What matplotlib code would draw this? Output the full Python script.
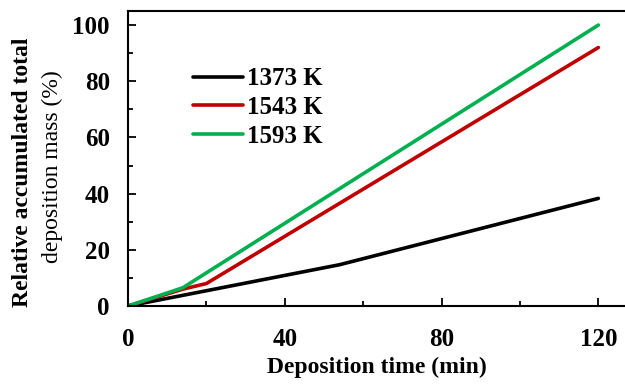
import matplotlib
matplotlib.use("Agg")
import matplotlib.pyplot as plt
from matplotlib.ticker import MultipleLocator

plt.rcParams['font.family'] = ['Liberation Serif', 'DejaVu Serif']

labels = ["1373 K", "1543 K", "1593 K"]
colors = ["#000000", "#C00000", "#00B050"]
t_1373 = [0, 14, 54, 120]
m_1373 = [0, 3.8, 14.7, 38.3]
t_1543 = [0, 14, 20, 120]
m_1543 = [0, 6.0, 8.0, 92.0]
t_1593 = [0, 14, 20, 120]
m_1593 = [0, 6.5, 11.8, 100.0]

series = [(t_1373, m_1373), (t_1543, m_1543), (t_1593, m_1593)]

fig = plt.figure(figsize=(6.25, 3.85), dpi=100)
ax = fig.add_axes([128/625, 79/385, 1 - 128/625, (306-11)/385])

for (t, m), lab, c in zip(series, labels, colors):
    ax.plot(t, m, color=c, lw=2.6, label=lab, solid_capstyle='round')

ax.set_xlim(0, 126.8)
ax.set_ylim(0, 105)
ax.xaxis.set_major_locator(MultipleLocator(40))
ax.xaxis.set_minor_locator(MultipleLocator(20))
ax.yaxis.set_major_locator(MultipleLocator(20))
ax.yaxis.set_minor_locator(MultipleLocator(10))
ax.tick_params(which='major', direction='in', length=6, width=1.3, labelsize=18)
ax.tick_params(axis='x', which='major', pad=16)
ax.tick_params(axis='y', which='major', pad=13)
ax.tick_params(which='minor', direction='in', length=3.5, width=1.3)
for lbl in ax.get_xticklabels() + ax.get_yticklabels():
    lbl.set_fontweight('bold')
ax.spines['right'].set_visible(False)
for s in ['left', 'bottom', 'top']:
    ax.spines[s].set_linewidth(1.5)

ax.set_xlabel("Deposition time (min)", fontsize=17, fontweight='bold', labelpad=4)

fig.text(23/625, 1 - 172/385, "Relative accumulated total", rotation=90, fontsize=17,
         fontweight='bold', ha='center', va='center')
fig.text(52/625, 1 - 167/385, "deposition mass (%)", rotation=90, fontsize=17,
         ha='center', va='center')

leg = ax.legend(loc='upper left', bbox_to_anchor=(0.11, 0.843), frameon=False,
                fontsize=18, handlelength=2.0, handletextpad=0.16, labelspacing=0.23,
                borderaxespad=0)
for txt in leg.get_texts():
    txt.set_fontweight('bold')

fig.savefig("out.png", dpi=100)
